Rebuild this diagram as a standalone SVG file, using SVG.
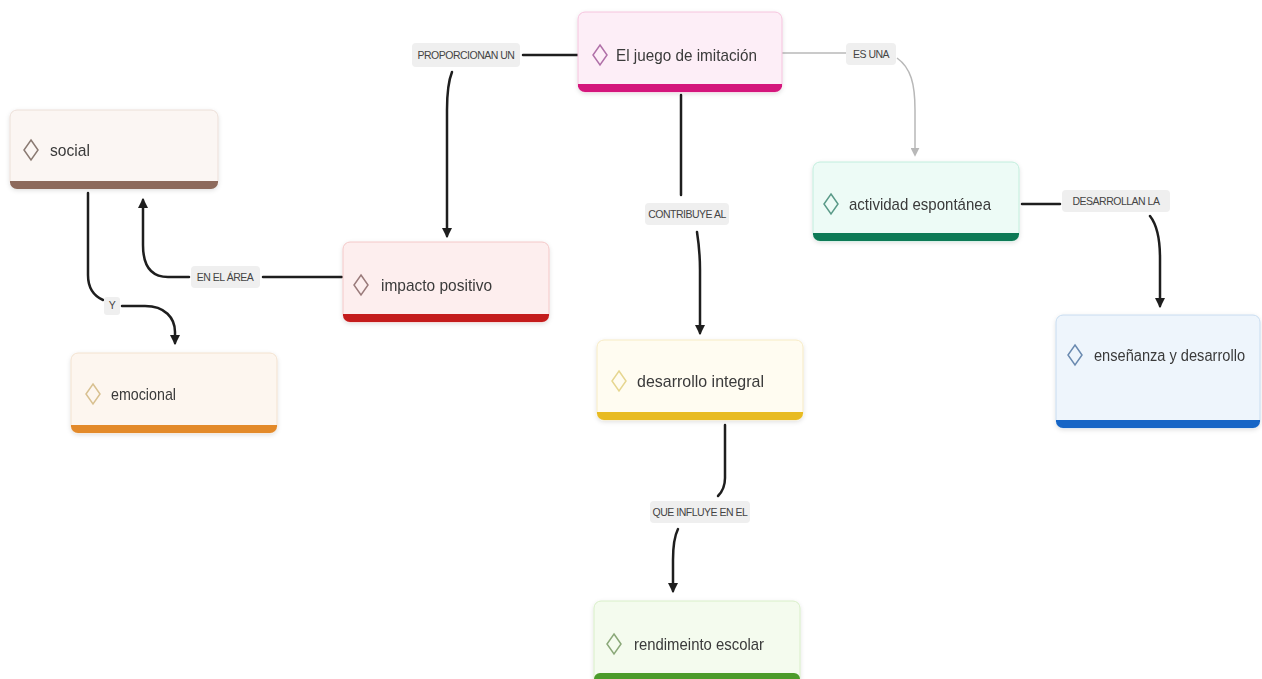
<svg xmlns="http://www.w3.org/2000/svg" width="1262" height="679" viewBox="0 0 1262 679">
<defs>
<style>
.nt{font-family:"Liberation Sans",Arial,sans-serif;font-size:17px;fill:#3a3a3a}
.lt{font-family:"Liberation Sans",Arial,sans-serif;font-size:10.5px;fill:#444;text-anchor:middle;letter-spacing:-0.5px}
.lb{fill:#efefef}
.c{fill:none;stroke:#1e1e1e;stroke-width:2.5;stroke-linecap:round}
.cg{fill:none;stroke:#b8b8b8;stroke-width:1.5}
.dm{fill:none;stroke-width:1.5}
</style>
<marker id="ah" viewBox="0 0 10 10" refX="8" refY="5" markerWidth="4" markerHeight="4" orient="auto">
<path d="M0,0 L10,5 L0,10 z" fill="#1e1e1e"/>
</marker>
<marker id="ahg" viewBox="0 0 10 10" refX="8" refY="5" markerWidth="6" markerHeight="6" orient="auto">
<path d="M0,0 L10,5 L0,10 z" fill="#b8b8b8"/>
</marker>
<filter id="sh" x="-10%" y="-10%" width="120%" height="130%">
<feDropShadow dx="0" dy="1.5" stdDeviation="2" flood-color="#000" flood-opacity="0.12"/>
</filter>
</defs>
<rect width="1262" height="679" fill="#ffffff"/>

<g id="connectors">
<!-- PROPORCIONAN UN -->
<path class="c" d="M578,55 H523"/>
<path class="c" d="M452,72 C448,82 447,92 447,110 V236" marker-end="url(#ah)"/>
<rect class="lb" x="412" y="43" width="108" height="24" rx="4"/>
<text class="lt" x="466" y="59">PROPORCIONAN UN</text>
<!-- ES UNA -->
<path class="cg" d="M782,53 H846"/>
<path class="cg" d="M897,58 C911,68 915,84 915,110 V155" marker-end="url(#ahg)"/>
<rect class="lb" x="846" y="43" width="50" height="22" rx="4"/>
<text class="lt" x="871" y="58">ES UNA</text>
<!-- CONTRIBUYE AL -->
<path class="c" d="M681,95 V195"/>
<path class="c" d="M697,232 C699,245 700,255 700,270 V333" marker-end="url(#ah)"/>
<rect class="lb" x="645" y="203" width="84" height="22" rx="4"/>
<text class="lt" x="687" y="218">CONTRIBUYE AL</text>
<!-- DESARROLLAN LA -->
<path class="c" d="M1022,204 H1060"/>
<path class="c" d="M1150,216 C1157,225 1160,238 1160,258 V306" marker-end="url(#ah)"/>
<rect class="lb" x="1062" y="190" width="108" height="22" rx="4"/>
<text class="lt" x="1116" y="205">DESARROLLAN LA</text>
<!-- QUE INFLUYE EN EL -->
<path class="c" d="M725,425 V478 C725,486 722,492 718,496"/>
<path class="c" d="M678,529 C674,537 673,546 673,560 V591" marker-end="url(#ah)"/>
<rect class="lb" x="650" y="501" width="100" height="22" rx="4"/>
<text class="lt" x="700" y="516">QUE INFLUYE EN EL</text>
<!-- EN EL ÁREA -->
<path class="c" d="M342,277 H263"/>
<path class="c" d="M189,277 H168 C150,277 143,265 143,245 V200" marker-end="url(#ah)"/>
<rect class="lb" x="191" y="266" width="69" height="22" rx="4"/>
<text class="lt" x="225" y="281">EN EL ÁREA</text>
<!-- Y -->
<path class="c" d="M88,193 V275 C88,288 94,296 103,300"/>
<path class="c" d="M122,306 H145 C165,306 175,318 175,332 V343" marker-end="url(#ah)"/>
<rect class="lb" x="104" y="297" width="16" height="18" rx="3"/>
<text class="lt" x="112" y="309">Y</text>
</g>

<g id="node-juego" filter="url(#sh)">
<rect x="578" y="12" width="204" height="80" rx="7" fill="#fdeef7" stroke="#f6c4de"/>
<path d="M578,85 H782 V85 A7,7 0 0 1 775,92 H585 A7,7 0 0 1 578,85 Z" fill="#d4157c"/>
<rect x="578" y="84" width="204" height="3" fill="#d4157c"/>
<polygon class="dm" points="600,45 607,55 600,65 593,55" stroke="#b070a8"/>
<text class="nt" x="616" y="61" textLength="141" lengthAdjust="spacingAndGlyphs">El juego de imitación</text>
</g>

<g id="node-social" filter="url(#sh)">
<rect x="10" y="110" width="208" height="78" rx="7" fill="#fbf6f3" stroke="#ecdfd8"/>
<path d="M10,182 H218 A7,7 0 0 1 211,189 H17 A7,7 0 0 1 10,182 Z" fill="#8d6a5c"/>
<rect x="10" y="181" width="208" height="2" fill="#8d6a5c"/>
<polygon class="dm" points="31,140 38,150 31,160 24,150" stroke="#8a7a72"/>
<text class="nt" x="50" y="156" textLength="40" lengthAdjust="spacingAndGlyphs">social</text>
</g>

<g id="node-impacto" filter="url(#sh)">
<rect x="343" y="242" width="206" height="80" rx="7" fill="#fdeeee" stroke="#f4c8c8"/>
<path d="M343,315 H549 A7,7 0 0 1 542,322 H350 A7,7 0 0 1 343,315 Z" fill="#c41a1a"/>
<rect x="343" y="314" width="206" height="2" fill="#c41a1a"/>
<polygon class="dm" points="361,275 368,285 361,295 354,285" stroke="#9a7a7a"/>
<text class="nt" x="381" y="291" textLength="111" lengthAdjust="spacingAndGlyphs">impacto positivo</text>
</g>

<g id="node-emocional" filter="url(#sh)">
<rect x="71" y="353" width="206" height="80" rx="7" fill="#fdf6ef" stroke="#f3e2cf"/>
<path d="M71,426 H277 A7,7 0 0 1 270,433 H78 A7,7 0 0 1 71,426 Z" fill="#e38a2c"/>
<rect x="71" y="425" width="206" height="2" fill="#e38a2c"/>
<polygon class="dm" points="93,384 100,394 93,404 86,394" stroke="#d8c090"/>
<text class="nt" x="111" y="400" textLength="65" lengthAdjust="spacingAndGlyphs">emocional</text>
</g>

<g id="node-desarrollo" filter="url(#sh)">
<rect x="597" y="340" width="206" height="80" rx="7" fill="#fffcf1" stroke="#f7ebc4"/>
<path d="M597,413 H803 A7,7 0 0 1 796,420 H604 A7,7 0 0 1 597,413 Z" fill="#e8bb24"/>
<rect x="597" y="412" width="206" height="2" fill="#e8bb24"/>
<polygon class="dm" points="619,371 626,381 619,391 612,381" stroke="#e6d690"/>
<text class="nt" x="637" y="387" textLength="127" lengthAdjust="spacingAndGlyphs">desarrollo integral</text>
</g>

<g id="node-actividad" filter="url(#sh)">
<rect x="813" y="162" width="206" height="79" rx="7" fill="#edfbf6" stroke="#c2eedd"/>
<path d="M813,234 H1019 A7,7 0 0 1 1012,241 H820 A7,7 0 0 1 813,234 Z" fill="#107a56"/>
<rect x="813" y="233" width="206" height="2" fill="#107a56"/>
<polygon class="dm" points="831,194 838,204 831,214 824,204" stroke="#5a9a88"/>
<text class="nt" x="849" y="210" textLength="142" lengthAdjust="spacingAndGlyphs">actividad espontánea</text>
</g>

<g id="node-ensenanza" filter="url(#sh)">
<rect x="1056" y="315" width="204" height="113" rx="7" fill="#eef5fc" stroke="#c8dcf0"/>
<path d="M1056,421 H1260 A7,7 0 0 1 1253,428 H1063 A7,7 0 0 1 1056,421 Z" fill="#1565c6"/>
<rect x="1056" y="420" width="204" height="2" fill="#1565c6"/>
<polygon class="dm" points="1075,345 1082,355 1075,365 1068,355" stroke="#6a8ab0"/>
<text class="nt" x="1094" y="361" style="font-size:16px" textLength="151" lengthAdjust="spacingAndGlyphs">enseñanza y desarrollo</text>
</g>

<g id="node-rendimiento" filter="url(#sh)">
<rect x="594" y="601" width="206" height="84" rx="7" fill="#f4fbee" stroke="#d8efc8"/>
<rect x="594" y="673" width="206" height="12" rx="6" fill="#4b9b2a"/>
<polygon class="dm" points="614,634 621,644 614,654 607,644" stroke="#8aa878"/>
<text class="nt" x="634" y="650" textLength="130" lengthAdjust="spacingAndGlyphs">rendimeinto escolar</text>
</g>
</svg>
